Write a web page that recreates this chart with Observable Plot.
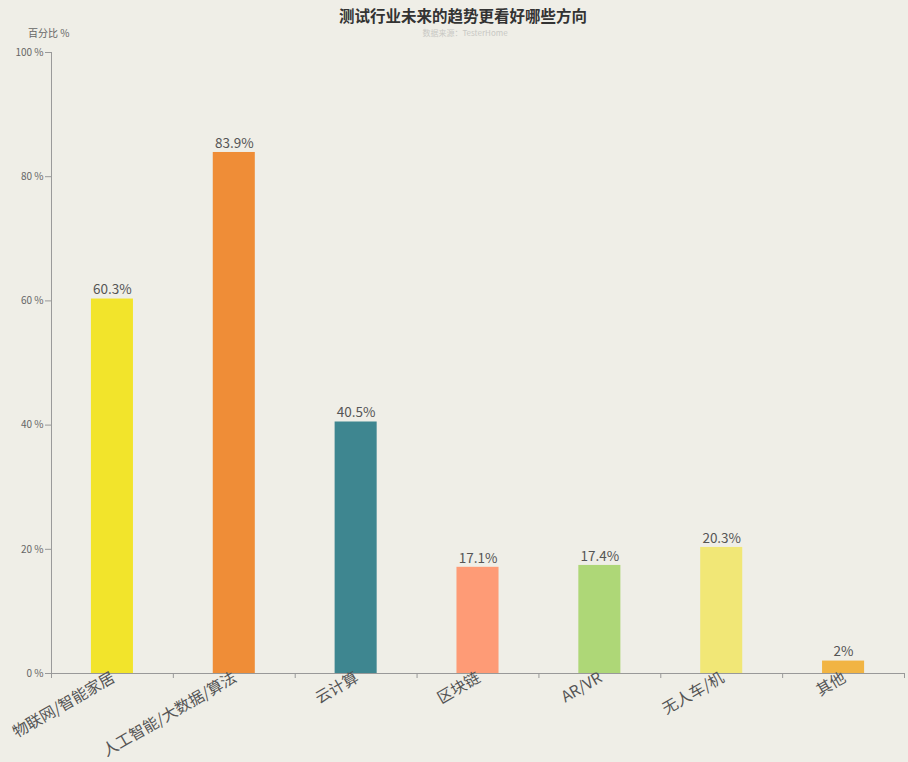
<!DOCTYPE html>
<html>
<head>
<meta charset="utf-8">
<script src="https://cdn.jsdelivr.net/npm/d3@7"></script>
<script src="https://cdn.jsdelivr.net/npm/@observablehq/plot@0.6"></script>
<style>
  html, body { margin: 0; padding: 0; background: #efeee7; }
  body { width: 908px; height: 762px; overflow: hidden; font-family: "Noto Sans CJK SC", "Noto Sans", sans-serif; }
  #header { position: relative; height: 40px; }
  #title { position: absolute; left: 0; width: 926px; top: 4px; text-align: center; font-size: 15.5px; font-weight: bold; color: #333; }
  #subtitle { position: absolute; left: 0; width: 930px; top: 27px; text-align: center; font-size: 8px; color: #c8c8c4; }
  #ylabel { position: absolute; left: 28px; top: 25px; font-size: 10px; color: #666; }
  #chart svg { display: block; }
</style>
</head>
<body>
<div id="header">
  <div id="title">测试行业未来的趋势更看好哪些方向</div>
  <div id="subtitle">数据来源：TesterHome</div>
  <div id="ylabel">百分比 %</div>
</div>
<div id="chart"></div>
<script>
const categories = ["物联网/智能家居", "人工智能/大数据/算法", "云计算", "区块链", "AR/VR", "无人车/机", "其他"];
const values = [60.3, 83.9, 40.5, 17.1, 17.4, 20.3, 2];
const colors = ["#f2e42b", "#ef8d37", "#3e8690", "#fe9b76", "#aed777", "#f1e776", "#f1b443"];
const yTicks = [0, 20, 40, 60, 80, 100];

const data = categories.map((c, i) => ({category: c, value: values[i], color: colors[i]}));

const width = 908, height = 722;
const marginLeft = 51, marginRight = 4, marginTop = 12, marginBottom = 89;
const step = (width - marginLeft - marginRight) / categories.length;

const plot = Plot.plot({
  width, height, marginLeft, marginRight, marginTop, marginBottom,
  style: {background: "transparent", fontFamily: "'Noto Sans CJK SC', 'Noto Sans', sans-serif", color: "#555"},
  x: {domain: categories, padding: 0.655, paddingOuter: 0.3275, round: false, label: null},
  y: {domain: [0, 100], label: null},
  marks: [
    Plot.barY(data, {x: "category", y: "value", fill: "color"}),
    Plot.text(data, {x: "category", y: "value", text: d => `${d.value}%`, dy: -9, fontSize: 13.5, fill: "#555"}),
    Plot.ruleY([0], {stroke: "#999"}),
    Plot.ruleX(categories.slice(0, 1), {x: d => d, y1: 0, y2: 100, dx: -step / 2, stroke: "#999"}),
    Plot.axisY({ticks: yTicks, tickFormat: d => `${d} %`, tickSize: 6, fontSize: 10, stroke: "#999", fill: "#666", tickPadding: 2}),
    Plot.ruleX(categories, {x: d => d, y1: 0, y2: 0, dx: step / 2, insetBottom: -5, stroke: "#999"}),
    Plot.ruleX(categories.slice(0, 1), {x: d => d, y1: 0, y2: 0, dx: -step / 2, insetBottom: -5, stroke: "#999"}),
    Plot.axisX({tickSize: 0, tickRotate: -30, fontSize: 15.5, fill: "#555", tickPadding: 3, textAnchor: "end", dx: 1})
  ]
});
document.getElementById("chart").appendChild(plot);
</script>
</body>
</html>
